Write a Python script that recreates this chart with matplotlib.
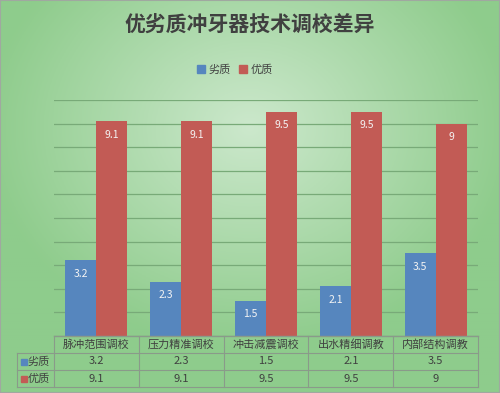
import numpy as np
import matplotlib
matplotlib.use('Agg')
import matplotlib.pyplot as plt
from matplotlib.lines import Line2D
from matplotlib.patches import Rectangle

plt.rcParams['font.family'] = ['Noto Sans CJK SC', 'DejaVu Sans']

title = '优劣质冲牙器技术调校差异'
categories = ['脉冲范围调校', '压力精准调校', '冲击减震调校', '出水精细调教', '内部结构调教']
series_names = ['劣质', '优质']
low_quality = [3.2, 2.3, 1.5, 2.1, 3.5]
high_quality = [9.1, 9.1, 9.5, 9.5, 9]
colors = ['#5686be', '#c25b55']

W, H = 500, 393
fig = plt.figure(figsize=(W / 100, H / 100), dpi=100)

# radial green gradient background
bg = fig.add_axes([0, 0, 1, 1], zorder=-10)
yy, xx = np.mgrid[-1:1:200j, -1:1:250j]
r = np.clip(np.sqrt(xx**2 * 0.9 + (yy + 0.35)**2 * 0.8), 0, 1)
c0 = np.array([0.80, 0.91, 0.80])
c1 = np.array([0.56, 0.80, 0.55])
img = c0[None, None, :] * (1 - r[..., None]) + c1[None, None, :] * r[..., None]
bg.imshow(img, extent=[0, 1, 0, 1], aspect='auto', origin='upper')
bg.add_patch(Rectangle((0, 0), 1, 1, fill=False, edgecolor='#a0a8a0', lw=1.5,
                       transform=bg.transAxes))
bg.set_xlim(0, 1)
bg.set_ylim(0, 1)
bg.axis('off')

# main plot area (pixel layout)
x0, x1 = 54, 478
ytop, ybot = 100, 336
ax = fig.add_axes([x0 / W, 1 - ybot / H, (x1 - x0) / W, (ybot - ytop) / H])
ax.patch.set_alpha(0)
x = np.arange(len(categories))
bw = 0.365
b1 = ax.bar(x - bw / 2, low_quality, bw, color=colors[0], zorder=3)
b2 = ax.bar(x + bw / 2, high_quality, bw, color=colors[1], zorder=3)
for bars, vals in ((b1, low_quality), (b2, high_quality)):
    for b, v in zip(bars, vals):
        ax.text(b.get_x() + b.get_width() / 2, v - 0.35, f'{v:g}', ha='center', va='top',
                color='#f4f4f4', fontsize=7.5, zorder=4)
ax.set_xlim(-0.5, len(categories) - 0.5)
ax.set_ylim(0, 10)
ax.set_yticks(range(0, 11))
ax.grid(axis='y', color='#78aa78', lw=0.9, zorder=0)
ax.tick_params(left=False, bottom=False, labelleft=False, labelbottom=False)
for s in ax.spines.values():
    s.set_visible(False)

# title and legend
fig.text(0.5, 1 - 24 / H, title, ha='center', va='center', fontsize=15,
         fontweight='bold', color='#404040')
handles = [Rectangle((0, 0), 1, 1, color=c) for c in colors]
fig.legend(handles, series_names, loc='center', bbox_to_anchor=(0.47, 1 - 70 / H),
           ncol=2, frameon=False, fontsize=8, handlelength=0.7, handleheight=0.7,
           handletextpad=0.3, columnspacing=0.8, labelcolor='#404040')

# data table
tab = fig.add_axes([0, 0, 1, 1], zorder=5)
tab.set_xlim(0, W)
tab.set_ylim(H, 0)
tab.axis('off')
tab.patch.set_alpha(0)
lc = '#8a9a8a'
rows = [336, 353, 370, 387]
colw = (x1 - x0) / len(categories)
tab.plot([x0, x1], [rows[0], rows[0]], color=lc, lw=1)
for yv in rows[1:]:
    tab.plot([17, x1], [yv, yv], color=lc, lw=0.8)
tab.plot([17, 17], [rows[1], rows[3]], color=lc, lw=0.8)
for i in range(len(categories) + 1):
    tab.plot([x0 + i * colw] * 2, [rows[0], rows[3]], color=lc, lw=0.8)
for i, cat in enumerate(categories):
    tab.text(x0 + (i + 0.5) * colw, (rows[0] + rows[1]) / 2, cat, ha='center', va='center',
             fontsize=8, color='#404040')
for r, (name, vals, c) in enumerate(zip(series_names, [low_quality, high_quality], colors)):
    yc = (rows[r + 1] + rows[r + 2]) / 2
    tab.add_patch(Rectangle((21, yc - 3), 6, 6, color=c))
    tab.text(28, yc, name, ha='left', va='center', fontsize=8, color='#404040')
    for i, v in enumerate(vals):
        tab.text(x0 + (i + 0.5) * colw, yc, f'{v:g}', ha='center', va='center',
                 fontsize=8, color='#404040')

fig.savefig('out.png', dpi=100)
